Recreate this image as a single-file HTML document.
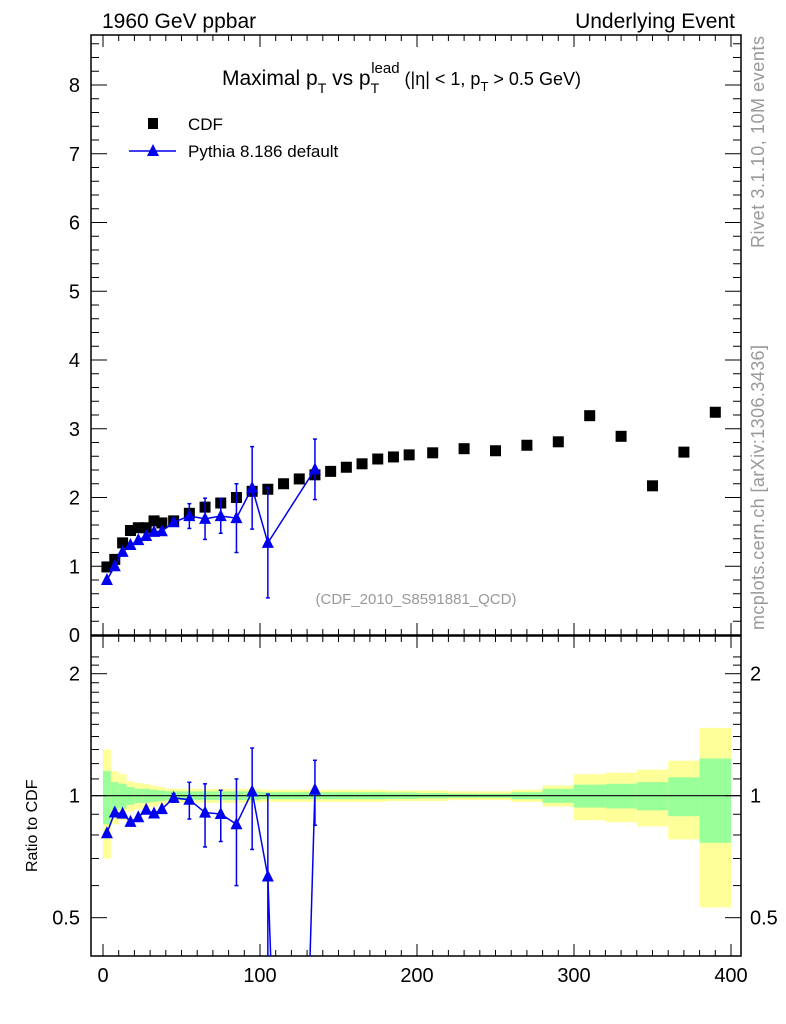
<!DOCTYPE html>
<html><head><meta charset="utf-8"><style>
html,body{margin:0;background:#fff;width:786px;height:1024px;overflow:hidden;position:relative;}
svg{display:block;font-family:"Liberation Sans",sans-serif;}
</style></head><body>
<svg id="c" width="786" height="1024" style="position:absolute;left:0;top:0"></svg>
<script>
const edges=[0,5,10,15,20,25,30,35,40,50,60,70,80,90,100,110,120,130,140,150,160,170,180,190,200,220,240,260,280,300,320,340,360,380,400];
const cdfVals=[0.99,1.10,1.34,1.52,1.56,1.56,1.66,1.63,1.66,1.77,1.86,1.92,2.00,2.09,2.12,2.20,2.27,2.33,2.38,2.44,2.49,2.56,2.59,2.62,2.65,2.71,2.68,2.76,2.81,3.19,2.89,2.17,2.66,3.24];
const yellowErr=[0.30,0.15,0.13,0.085,0.075,0.07,0.06,0.05,0.04,0.04,0.04,0.04,0.04,0.04,0.035,0.035,0.035,0.035,0.035,0.035,0.035,0.035,0.03,0.03,0.03,0.025,0.025,0.035,0.06,0.13,0.14,0.16,0.22,0.47];
const greenErr=[0.15,0.08,0.07,0.05,0.04,0.04,0.035,0.03,0.025,0.025,0.025,0.025,0.025,0.025,0.02,0.02,0.02,0.02,0.02,0.02,0.02,0.02,0.018,0.018,0.015,0.012,0.012,0.02,0.04,0.065,0.07,0.08,0.11,0.235];
const pyX=[2.5,7.5,12.5,17.5,22.5,27.5,32.5,37.5,45,55,65,75,85,95,105,115,125,135];
const pyVals=[0.80,1.00,1.21,1.31,1.38,1.44,1.50,1.51,1.64,1.73,1.69,1.73,1.70,2.14,1.34,0,0,2.41];
const pyErr=[0,0,0,0,0,0,0,0,0.04,0.18,0.3,0.25,0.5,0.6,0.8,0,0,0.44];
const xTicks=[0,100,200,300,400];
const yTicks=[0,1,2,3,4,5,6,7,8];
const rTicks=[0.5,1,2];

const L=91,R=741,T=35,B=635,RT=636,RB=956;
const sx=v=>103+(v)*(731-103)/400;
const sy=v=>B-v*68.75;
const ry=v=>795.7-Math.log2(v)*122;
const svg=document.getElementById('c');
const NS='http://www.w3.org/2000/svg';
function mk(tag,attrs,parent){const e=document.createElementNS(NS,tag);for(const k in attrs)e.setAttribute(k,attrs[k]);(parent||svg).appendChild(e);return e;}
function txt(s,x,y,size,anchor,fill,parent){const t=mk('text',{x:x,y:y,'font-size':size,'text-anchor':anchor||'start',fill:fill||'#000'},parent);t.textContent=s;return t;}

const defs=mk('defs',{});
const cp=mk('clipPath',{id:'rc'},defs);mk('rect',{x:L,y:RT,width:R-L,height:RB-RT},cp);
const cp2=mk('clipPath',{id:'mc'},defs);mk('rect',{x:L,y:T,width:R-L,height:B-T},cp2);

const band=mk('g',{'clip-path':'url(#rc)'});


for(let i=0;i<cdfVals.length;i++){
  const x0=sx(edges[i]),x1=sx(edges[i+1]);
  const y=mk('rect',{x:x0,y:ry(1+yellowErr[i]),width:x1-x0,height:ry(1-yellowErr[i])-ry(1+yellowErr[i]),fill:'#ffff99'},band);
  
  
  const g=mk('rect',{x:x0,y:ry(1+greenErr[i]),width:x1-x0,height:ry(1-greenErr[i])-ry(1+greenErr[i]),fill:'#99ff99'},band);
  
  
}
mk('line',{x1:L,x2:R,y1:ry(1),y2:ry(1),stroke:'#000','stroke-width':1.2});

const f1=mk('rect',{x:L,y:T,width:R-L,height:B-T,fill:'none',stroke:'#000','stroke-width':1.5});

const f2=mk('rect',{x:L,y:RT,width:R-L,height:RB-RT,fill:'none',stroke:'#000','stroke-width':1.5});


for(let v=0;v<=400;v+=10){
  const x=sx(v);if(x<L||x>R)continue;
  const len=v%100===0?12:6;
  for(const [yb,dir] of [[B,-1],[T,1],[RB,-1],[RT,1]]) mk('line',{x1:x,x2:x,y1:yb,y2:yb+dir*len,stroke:'#000'});
}
xTicks.forEach(v=>{const t=txt(String(v),sx(v),982,20,'middle');});
for(let k=0;k<=43;k++){const v=k*0.2;const y=sy(v);if(y<T)break;const len=k%5===0?16:8;
  mk('line',{x1:L,x2:L+len,y1:y,y2:y,stroke:'#000'});mk('line',{x1:R,x2:R-len,y1:y,y2:y,stroke:'#000'});}
yTicks.forEach(v=>{const t=txt(String(v),80,sy(v)+7,20,'end');});
[0.4,0.5,0.6,0.7,0.8,0.9,1,1.1,1.2,1.3,1.4,1.5,1.6,1.7,1.8,1.9,2,2.1,2.2].forEach(v=>{const y=ry(v);if(y<RT||y>RB)return;
  const len=(v===0.5||v===1||v===2)?16:8;mk('line',{x1:L,x2:L+len,y1:y,y2:y,stroke:'#000'});mk('line',{x1:R,x2:R-len,y1:y,y2:y,stroke:'#000'});});
rTicks.forEach(v=>{const a=txt(String(v),80,ry(v)+7,20,'end');
  const b=txt(String(v),750,ry(v)+7,20,'start');});

const cg=mk('g',{'clip-path':'url(#mc)'});

for(let i=0;i<cdfVals.length;i++){const x=(edges[i]+edges[i+1])/2;
  const r=mk('rect',{x:sx(x)-5.5,y:sy(cdfVals[i])-5.5,width:11,height:11,fill:'#000'},cg);
  }

function tri(x,y,parent){return mk('polygon',{points:`${x},${y-7} ${x-6},${y+5} ${x+6},${y+5}`,fill:'#0000ee'},parent);}
const pg=mk('g',{'clip-path':'url(#mc)'});

const pts=[];
pyX.forEach((x,i)=>{if(pyVals[i]>0)pts.push([sx(x),sy(pyVals[i]),i]);});
mk('polyline',{points:pts.map(p=>p[0]+','+p[1]).join(' '),fill:'none',stroke:'#0000ee','stroke-width':1.5},pg);
pts.forEach(([X,Y,i])=>{const e=pyErr[i];if(e>0){const y1=sy(pyVals[i]+e),y2=sy(pyVals[i]-e);
  mk('line',{x1:X,x2:X,y1:y1,y2:y2,stroke:'#0000ee','stroke-width':1.5},pg);
  mk('line',{x1:X-2,x2:X+2,y1:y1,y2:y1,stroke:'#0000ee','stroke-width':1.5},pg);mk('line',{x1:X-2,x2:X+2,y1:y2,y2:y2,stroke:'#0000ee','stroke-width':1.5},pg);}
  const t=tri(X,Y,pg);});

const rg=mk('g',{'clip-path':'url(#rc)'});

const cdfAt=x=>{for(let i=0;i<cdfVals.length;i++)if(x>=edges[i]&&x<edges[i+1])return cdfVals[i];return 1;};
const rp=pyX.map((x,i)=>{const r=pyVals[i]/cdfAt(x);return [sx(x),r>0.05?ry(r):ry(0.05),i,r];});
mk('polyline',{points:rp.map(p=>p[0]+','+p[1]).join(' '),fill:'none',stroke:'#0000ee','stroke-width':1.5},rg);
rp.forEach(([X,Y,i,r])=>{if(r<=0.05)return;const e=pyErr[i]/cdfAt(pyX[i]);if(e>0){const y1=ry(r+e),y2=ry(Math.max(r-e,0.05));
  mk('line',{x1:X,x2:X,y1:y1,y2:y2,stroke:'#0000ee','stroke-width':1.5},rg);
  mk('line',{x1:X-2,x2:X+2,y1:y1,y2:y1,stroke:'#0000ee','stroke-width':1.5},rg);mk('line',{x1:X-2,x2:X+2,y1:y2,y2:y2,stroke:'#0000ee','stroke-width':1.5},rg);}
  const t=tri(X,Y,rg);});
</script>
<svg width="786" height="1024" style="position:absolute;left:0;top:0;font-family:'Liberation Sans',sans-serif">
<text x="102" y="28" font-size="21">1960 GeV ppbar</text>
<text x="735" y="28" font-size="21" text-anchor="end">Underlying Event</text>
<text x="222" y="85" font-size="21">Maximal p<tspan font-size="14" dy="8">T</tspan><tspan dy="-8"> vs p</tspan><tspan font-size="14" dy="8">T</tspan><tspan font-size="15" dx="-8" dy="-20">lead</tspan><tspan font-size="18" dy="12"> (|η| &lt; 1, p</tspan><tspan font-size="13" dy="6">T</tspan><tspan font-size="18" dy="-6"> &gt; 0.5 GeV)</tspan></text>
<rect x="148" y="118" width="10" height="11" fill="#000"/>
<text x="188" y="130" font-size="17">CDF</text>
<line x1="129" x2="176" y1="151" y2="151" stroke="#0000ee" stroke-width="1.5"/>
<polygon points="153,144 147,156 159,156" fill="#0000ee"/>
<text x="188" y="157" font-size="17">Pythia 8.186 default</text>
<text x="416" y="604" font-size="15" fill="#999" text-anchor="middle">(CDF_2010_S8591881_QCD)</text>
<text transform="translate(764,248) rotate(-90)" textLength="212" font-size="18" fill="#999">Rivet 3.1.10, 10M events</text>
<text transform="translate(764,630) rotate(-90)" textLength="285" font-size="18" fill="#999">mcplots.cern.ch [arXiv:1306.3436]</text>
<text transform="translate(37,872) rotate(-90)" font-size="16">Ratio to CDF</text>
</svg>
</body></html>
